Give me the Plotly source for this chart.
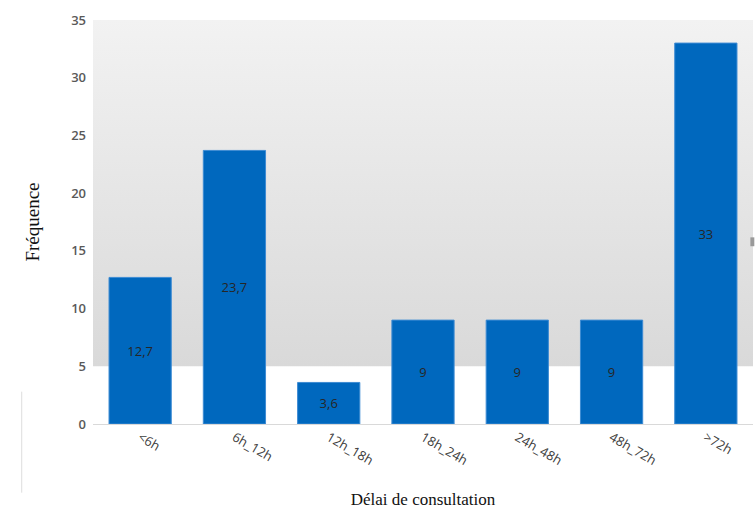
import plotly.graph_objects as go

categories = ["<6h", "6h_12h", "12h_18h", "18h_24h", "24h_48h", "48h_72h", ">72h"]
values = [12.7, 23.7, 3.6, 9, 9, 9, 33]
labels = ["12,7", "23,7", "3,6", "9", "9", "9", "33"]
y_ticks = [0, 5, 10, 15, 20, 25, 30, 35]
band_low, band_high = 5, 35

fig = go.Figure()

# gradient background band (on the hidden base linear x axis, drawn first)
fig.add_trace(go.Scatter(
    x=[0, 1, 1, 0, 0], y=[band_low, band_low, band_high, band_high, band_low],
    xaxis="x", yaxis="y", mode="lines", line=dict(width=0),
    fill="toself",
    fillgradient=dict(type="vertical",
                      colorscale=[[0, "#d9d9d9"], [1, "#f2f2f2"]]),
    hoverinfo="skip", showlegend=False,
))

fig.add_trace(go.Bar(
    x=categories, y=values, text=labels, xaxis="x2", yaxis="y",
    textposition="inside", insidetextanchor="middle",
    textfont=dict(family="Open Sans, sans-serif", size=13, color="#262626"),
    marker=dict(color="#0068BE", line=dict(color="#3d8bd3", width=1)),
    width=0.66, showlegend=False,
))

fig.update_layout(
    width=755, height=510,
    margin=dict(l=93, r=2, t=20, b=86),
    paper_bgcolor="white", plot_bgcolor="rgba(0,0,0,0)",
    xaxis=dict(range=[0, 1], visible=False, fixedrange=True),
    xaxis2=dict(type="category", overlaying="x", anchor="y", side="bottom",
                showgrid=False, showline=True, linecolor="#d9d9d9",
                linewidth=1, tickangle=30, ticks="",
                tickfont=dict(family="Open Sans, sans-serif", size=13, color="#404040"),
                title=dict(text="Délai de consultation", standoff=25,
                           font=dict(family="Liberation Serif, Times New Roman, serif",
                                     size=17, color="#111111"))),
    yaxis=dict(range=[0, 35], tickvals=y_ticks, showgrid=False, zeroline=False,
               showline=False, ticks="", ticklabelstandoff=6,
               tickfont=dict(family="Open Sans, sans-serif", size=13, color="#595959",
                             weight=600),
               title=dict(text="Fréquence", standoff=26,
                          font=dict(family="Liberation Serif, Times New Roman, serif",
                                    size=19, color="#111111"))),
    shapes=[dict(type="line", xref="paper", yref="paper", x0=-0.108, x1=-0.108,
                 y0=-0.17, y1=0.08, line=dict(color="#dddddd", width=1)),
            dict(type="rect", xref="paper", yref="paper", x0=0.996, x1=1.002,
                 y0=0.44, y1=0.462, line=dict(width=0), fillcolor="#9a9a9a")],
)

fig.write_html("out.html")
